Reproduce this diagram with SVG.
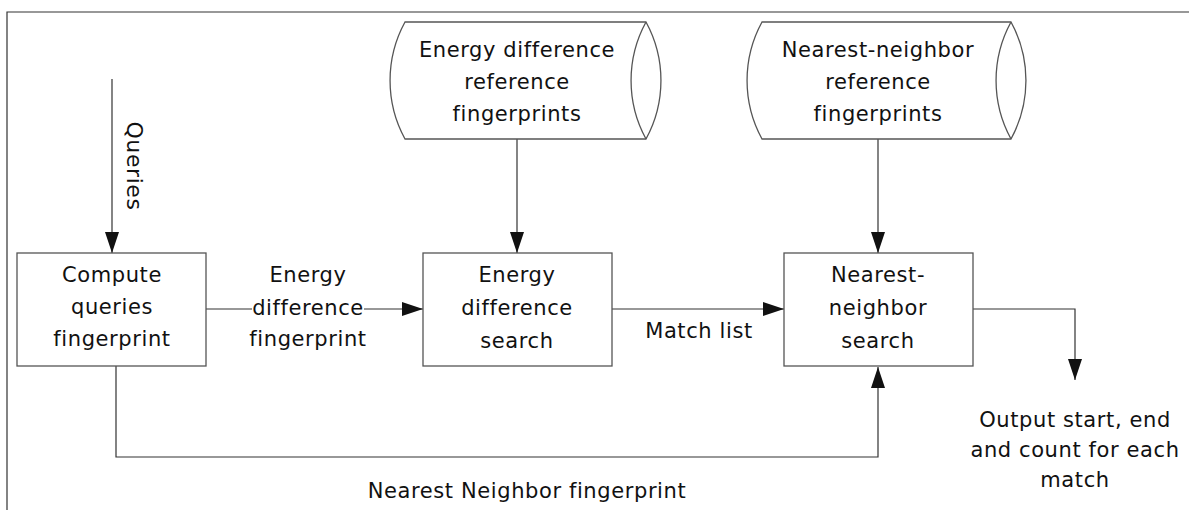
<svg xmlns="http://www.w3.org/2000/svg" width="1189" height="510" viewBox="0 0 1189 510">
<defs>
<style>
.frame{stroke:#333;stroke-width:1.2;fill:none}
.box{fill:#fff;stroke:#555;stroke-width:1.3}
.ln{fill:none;stroke:#333;stroke-width:1.2}
.arr{marker-end:url(#ah)}
text{font-family:"DejaVu Sans",sans-serif;font-size:21px;letter-spacing:0.6px;fill:#111;text-anchor:middle}
</style>
<marker id="ah" markerUnits="userSpaceOnUse" markerWidth="22" markerHeight="14" refX="21" refY="7" orient="auto">
<path d="M0,0 L21,7 L0,14 Z" fill="#111"/>
</marker>
</defs>
<rect width="1189" height="510" fill="#fff"/>
<path class="frame" d="M7,510 V12 H1189"/>
<g id="connectors">
<line class="ln arr" x1="112" y1="79" x2="112" y2="253"/>
<line class="ln arr" x1="517" y1="139" x2="517" y2="253"/>
<line class="ln arr" x1="878" y1="139" x2="878" y2="253"/>
<line class="ln" x1="206" y1="309" x2="252" y2="309"/>
<line class="ln arr" x1="364" y1="309" x2="423" y2="309"/>
<line class="ln arr" x1="612" y1="309" x2="784" y2="309"/>
<polyline class="ln arr" points="973,309 1075,309 1075,380"/>
<polyline class="ln arr" points="116,366 116,457 878,457 878,367"/>
<text transform="translate(127,166) rotate(90)" style="font-size:22px">Queries</text>
<text x="308" y="282">Energy</text>
<text x="308" y="315">difference</text>
<text x="308" y="346">fingerprint</text>
<text x="699" y="338">Match list</text>
<text x="527" y="498">Nearest Neighbor fingerprint</text>
<text x="1075" y="427">Output start, end</text>
<text x="1075" y="457">and count for each</text>
<text x="1075" y="487">match</text>
</g>
<g id="cyl-energy-ref">
<path class="box" d="M405,22 H646 A122,122 0 0 1 646,139 H405 A122,122 0 0 1 405,22 Z"/>
<path class="box" d="M646,22 A122,122 0 0 0 646,139"/>
<text x="517" y="57">Energy difference</text>
<text x="517" y="89">reference</text>
<text x="517" y="121">fingerprints</text>
</g>
<g id="cyl-nn-ref">
<path class="box" d="M762,22 H1011 A122,122 0 0 1 1011,139 H762 A122,122 0 0 1 762,22 Z"/>
<path class="box" d="M1011,22 A122,122 0 0 0 1011,139"/>
<text x="878" y="57">Nearest-neighbor</text>
<text x="878" y="89">reference</text>
<text x="878" y="121">fingerprints</text>
</g>
<g id="box-compute">
<rect class="box" x="17" y="253" width="189" height="113"/>
<text x="112" y="282">Compute</text>
<text x="112" y="314">queries</text>
<text x="112" y="346">fingerprint</text>
</g>
<g id="box-energy-search">
<rect class="box" x="423" y="253" width="189" height="113"/>
<text x="517" y="282">Energy</text>
<text x="517" y="315">difference</text>
<text x="517" y="348">search</text>
</g>
<g id="box-nn-search">
<rect class="box" x="784" y="253" width="189" height="113"/>
<text x="878" y="282">Nearest-</text>
<text x="878" y="315">neighbor</text>
<text x="878" y="348">search</text>
</g>
</svg>
